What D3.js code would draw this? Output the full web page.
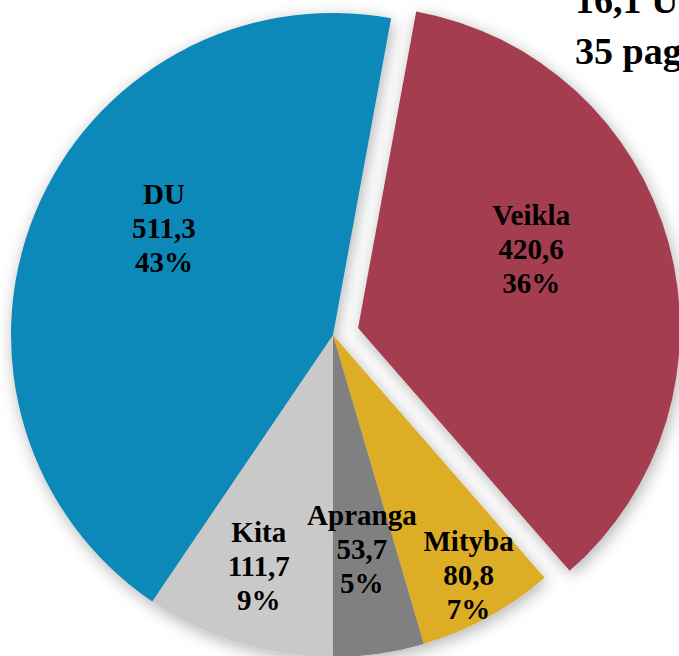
<!DOCTYPE html>
<html>
<head>
<meta charset="utf-8">
<script src="https://cdn.jsdelivr.net/npm/d3@7"></script>
<style>
  body { margin: 0; background: #fff; overflow: hidden; }
  svg { display: block; }
  text { font-family: "Liberation Serif", "Times New Roman", serif; font-weight: bold; fill: #000; }
</style>
</head>
<body>
<script>
var width = 679, height = 656;

// data
var categories = ["Veikla", "Mityba", "Apranga", "Kita", "DU"];
var values = [420.6, 80.8, 53.7, 111.7, 511.3];
var colors = ["#A43E50", "#DDAD27", "#808080", "#C9C9C9", "#1189B9"];
var titleLines = ["16,1 U", "35 pag"];

// layout
var cx = 333, cy = 335, radius = 322;
var firstSliceAngle = 10.4;          // degrees, clockwise from 12 o'clock
var explode = { "Veikla": 26 };
// label radius (px) and angle nudge (deg) per slice, as placed in the original
var labelPlace = {
  "DU":      { r: 200, da: 10 },
  "Veikla":  { r: 190, da: -9 },
  "Kita":    { r: 243, da: 0.7 },
  "Apranga": { r: 216, da: 0.5 },
  "Mityba":  { r: 276, da: -0.7 }
};
var fontSize = 29, lineH = 34;

var total = d3.sum(values);
var locale = d3.formatLocale({ decimal: ",", thousands: " ", grouping: [3], currency: ["", ""] });
var fmtVal = locale.format(".1f");
var fmtPct = d3.format(".0%");

var data = categories.map(function(c, i) { return { name: c, value: values[i], color: colors[i] }; });

var start = firstSliceAngle / 180 * Math.PI;
var pie = d3.pie()
  .sort(null)
  .value(function(d) { return d.value; })
  .startAngle(start)
  .endAngle(start + 2 * Math.PI);

var arc = d3.arc().innerRadius(0).outerRadius(radius);

var svg = d3.select("body").append("svg")
  .attr("width", width)
  .attr("height", height);

var defs = svg.append("defs");
var f = defs.append("filter").attr("id", "shadow")
  .attr("x", "-20%").attr("y", "-20%").attr("width", "140%").attr("height", "140%");
f.append("feDropShadow")
  .attr("dx", 2).attr("dy", 4)
  .attr("stdDeviation", 8)
  .attr("flood-color", "#000")
  .attr("flood-opacity", 0.3);

var g = svg.append("g")
  .attr("transform", "translate(" + cx + "," + cy + ")");

var arcs = pie(data);

function offset(d) {
  var e = explode[d.data.name] || 0;
  var a = (d.startAngle + d.endAngle) / 2;
  return [e * Math.sin(a), -e * Math.cos(a)];
}

g.append("g").attr("filter", "url(#shadow)")
  .selectAll("path")
  .data(arcs)
  .enter()
  .append("path")
  .attr("transform", function(d) { var o = offset(d); return "translate(" + o[0] + "," + o[1] + ")"; })
  .attr("d", arc)
  .attr("fill", function(d) { return d.data.color; });

var labels = g.selectAll(".label")
  .data(arcs)
  .enter()
  .append("text")
  .attr("class", "label")
  .attr("text-anchor", "middle")
  .style("font-size", fontSize + "px")
  .attr("transform", function(d) {
    var o = offset(d);
    var p = labelPlace[d.data.name];
    var a = (d.startAngle + d.endAngle) / 2 + p.da / 180 * Math.PI;
    var x = o[0] + p.r * Math.sin(a);
    var y = o[1] - p.r * Math.cos(a);
    return "translate(" + x + "," + y + ")";
  });

labels.each(function(d) {
  var t = d3.select(this);
  var lines = [d.data.name, fmtVal(d.data.value), fmtPct(d.data.value / total)];
  lines.forEach(function(s, i) {
    t.append("tspan")
      .attr("x", 0)
      .attr("y", (i - 1) * lineH + fontSize * 0.33)
      .text(s);
  });
});

// title, cut off by the right edge as in the original
svg.append("g")
  .selectAll("text")
  .data(titleLines)
  .enter()
  .append("text")
  .attr("x", 575)
  .attr("y", function(d, i) { return 13 + i * 51; })
  .style("font-size", "38px")
  .text(function(d) { return d; });
</script>
</body>
</html>
